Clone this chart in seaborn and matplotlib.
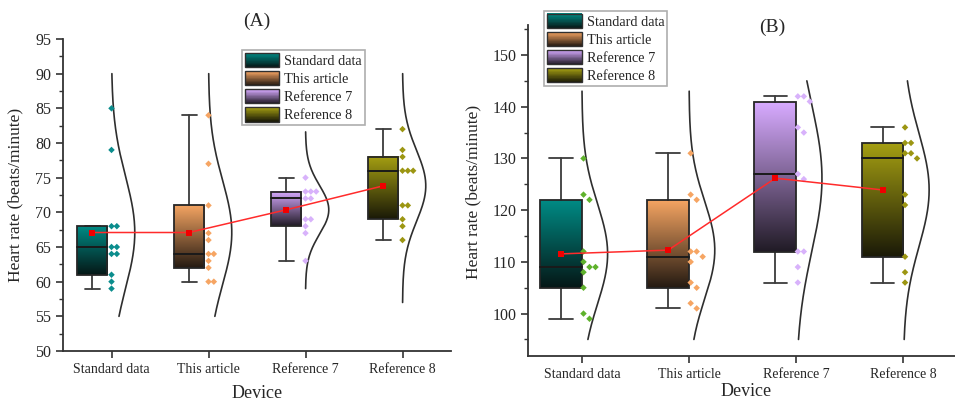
import numpy as np
import pandas as pd
import matplotlib
matplotlib.use("Agg")
import matplotlib.pyplot as plt
import seaborn as sns
from matplotlib.colors import to_rgb
from matplotlib.legend_handler import HandlerBase
from matplotlib.patches import Rectangle, Patch
from matplotlib.ticker import MultipleLocator

# ---------------------------------------------------------------- data
devices = ["Standard data", "This article", "Reference 7", "Reference 8"]

# (A) heart rate readings, beats/minute
hr_a_standard = [85, 79, 68, 68, 65, 65, 64, 64, 61, 60, 59]
hr_a_article = [84, 77, 71, 67, 66, 64, 64, 63, 62, 60, 60]
hr_a_ref7 = [75, 73, 73, 73, 72, 72, 69, 69, 68, 67, 63]
hr_a_ref8 = [82, 79, 78, 76, 76, 76, 71, 71, 69, 68, 66]

# (B) heart rate readings, beats/minute
hr_b_standard = [130, 123, 122, 112, 110, 109, 109, 108, 105, 100, 99]
hr_b_article = [131, 123, 122, 112, 112, 111, 110, 106, 105, 102, 101]
hr_b_ref7 = [142, 142, 141, 136, 135, 127, 126, 112, 112, 109, 106]
hr_b_ref8 = [136, 133, 133, 131, 131, 130, 123, 121, 111, 108, 106]

# vertical extent of each normal curve
curve_span_a = [(55, 90), (55, 90), (59, 81.6), (57, 90)]
curve_span_b = [(95, 143), (95, 143), (95, 145), (95, 145)]

yticks_a = [50, 55, 60, 65, 70, 75, 80, 85, 90, 95]
yticks_b = [100, 110, 120, 130, 140, 150]

# ---------------------------------------------------------------- style
box_tops = ["#008a84", "#f4a462", "#d7aaff", "#a49e12"]
points_a = ["#0b8d8d", "#f6a563", "#d8b2fb", "#9c9612"]
points_b = ["#5fb22c", "#f6a563", "#d8b2fb", "#9c9612"]
SERIF = ["Liberation Serif", "DejaVu Serif"]
INK = "#262626"

sns.set_theme(style="ticks")
plt.rcParams["font.family"] = SERIF
plt.rcParams["font.serif"] = SERIF


def dark_of(c):
    c = np.array(to_rgb(c))
    return c * 0.13 + 0.02


def gradient_image(c, n=64):
    top = np.array(to_rgb(c))
    bot = dark_of(c)
    t = np.linspace(0, 1, n)[:, None]
    return (bot + (top - bot) * t)[:, None, :]


def origin_stats(vals):
    v = np.asarray(vals, float)
    q1, med, q3 = np.percentile(v, [25, 50, 75], method="weibull")
    iqr = q3 - q1
    lo = v[v >= q1 - 1.5 * iqr].min()
    hi = v[v <= q3 + 1.5 * iqr].max()
    return dict(q1=q1, med=med, q3=q3, whislo=lo, whishi=hi,
                mean=v.mean(), sd=v.std(ddof=1))


def swarm_lanes(vals, gap):
    placed, out = [], []
    for v in vals:
        used = {l for (pv, l) in placed if abs(pv - v) < gap}
        k = 0
        while k in used:
            k += 1
        placed.append((v, k))
        out.append(k)
    return out


class GradientHandler(HandlerBase):
    def create_artists(self, legend, orig_handle, xdescent, ydescent,
                       width, height, fontsize, trans):
        top = np.array(to_rgb(orig_handle.get_facecolor()))
        bot = dark_of(top)
        n = 24
        arts = []
        for k in range(n):
            t = k / (n - 1)
            col = bot + (top - bot) * t
            arts.append(Rectangle((-xdescent, -ydescent + k * height / n),
                                  width, height / n + 0.3, facecolor=col,
                                  edgecolor="none", transform=trans))
        arts.append(Rectangle((-xdescent, -ydescent), width, height,
                              facecolor="none", edgecolor="#303030", lw=1.0,
                              transform=trans))
        return arts


def draw_panel(ax, groups, spans, pt_colors, box_w, box_off, cap_w,
               lane_step, lane_start, lane_gap, ylim, yticks, minor_step):
    positions = np.arange(1, len(groups) + 1)
    means = []
    rows = []
    for i, (vals, pos) in enumerate(zip(groups, positions)):
        st = origin_stats(vals)
        means.append(st["mean"])
        cx = pos + box_off
        x0, x1 = cx - box_w / 2, cx + box_w / 2
        # gradient-filled box
        ax.imshow(gradient_image(box_tops[i]), extent=[x0, x1, st["q1"], st["q3"]],
                  origin="lower", aspect="auto", zorder=2, interpolation="bilinear")
        ax.add_patch(Rectangle((x0, st["q1"]), box_w, st["q3"] - st["q1"],
                               facecolor="none", edgecolor="#262626", lw=1.3, zorder=3))
        ax.plot([x0, x1], [st["med"]] * 2, color="#1a1a1a", lw=1.4, zorder=3)
        # whiskers and caps
        for a, b in ((st["q3"], st["whishi"]), (st["q1"], st["whislo"])):
            ax.plot([cx, cx], [a, b], color="#3c3c3c", lw=1.3, zorder=2.5)
            ax.plot([cx - cap_w / 2, cx + cap_w / 2], [b, b], color="#3c3c3c",
                    lw=1.3, zorder=2.5)
        # normal curve to the right of each category
        lo, hi = spans[i]
        yy = np.linspace(lo, hi, 200)
        dens = np.exp(-0.5 * ((yy - st["mean"]) / st["sd"]) ** 2)
        ax.plot(pos + 0.24 * dens, yy, color="#2e2e2e", lw=1.2, zorder=2)
        # raw readings
        for v, ln in zip(vals, swarm_lanes(vals, lane_gap)):
            rows.append(dict(device=devices[i], hr=v,
                             x=pos + lane_start + lane_step * ln))
    df = pd.DataFrame(rows)
    sns.scatterplot(data=df, x="x", y="hr", hue="device",
                    palette=dict(zip(devices, pt_colors)), marker="D", s=11,
                    linewidth=0, legend=False, ax=ax, zorder=3)
    mean_df = pd.DataFrame(dict(x=positions + box_off, hr=means))
    sns.lineplot(data=mean_df, x="x", y="hr", sort=False, color="#ff2b2b",
                 lw=1.1, marker="s", markersize=5, markeredgewidth=0,
                 markerfacecolor="#f00000", ax=ax, zorder=5)

    ax.set_xlim(0.5, len(groups) + 0.5)
    ax.set_ylim(*ylim)
    ax.set_xticks(positions)
    ax.set_xticklabels(devices, fontsize=10, color=INK)
    ax.set_yticks(yticks)
    ax.set_yticklabels([str(t) for t in yticks], fontsize=11.5, color=INK)
    ax.yaxis.set_minor_locator(MultipleLocator(minor_step))
    ax.set_xlabel("")
    ax.set_ylabel("")
    sns.despine(ax=ax)
    for s in ("left", "bottom"):
        ax.spines[s].set_color("#333333")
        ax.spines[s].set_linewidth(1.3)
    ax.tick_params(axis="both", which="major", length=5, width=1.2,
                   color="#333333", pad=3.5)
    ax.tick_params(axis="y", which="minor", length=3, width=1.0, color="#333333")
    ax.tick_params(axis="x", which="minor", length=0)
    ax.set_facecolor("white")

    handles = [Patch(facecolor=c, label=d) for c, d in zip(box_tops, devices)]
    return handles


fig = plt.figure(figsize=(9.55, 4.03), dpi=100)
fig.patch.set_facecolor("white")

ax_a = fig.add_axes([63 / 955, 1 - 351 / 403, 388 / 955, 312 / 403])
ax_b = fig.add_axes([528.3 / 955, 1 - 356 / 403, 428.7 / 955, 331 / 403])

h = draw_panel(ax_a, [hr_a_standard, hr_a_article, hr_a_ref7, hr_a_ref8],
               curve_span_a, points_a, box_w=0.31, box_off=-0.2, cap_w=0.155,
               lane_step=0.055, lane_start=0.0, lane_gap=0.6,
               ylim=(50, 95), yticks=yticks_a, minor_step=2.5)
draw_panel(ax_b, [hr_b_standard, hr_b_article, hr_b_ref7, hr_b_ref8],
           curve_span_b, points_b, box_w=0.39, box_off=-0.195, cap_w=0.22,
           lane_step=0.056, lane_start=0.015, lane_gap=1.5,
           ylim=(91.8, 155.8), yticks=yticks_b, minor_step=5)

leg_kw = dict(handler_map={Patch: GradientHandler()}, loc="upper left",
              frameon=True, fancybox=False, borderpad=0.22, labelspacing=0.22,
              handlelength=2.4, handleheight=1.15, handletextpad=0.35,
              borderaxespad=0, prop={"family": SERIF, "size": 10.3})
for ax, anchor in ((ax_a, (0.461, 0.965)), (ax_b, (0.037, 1.043))):
    leg = ax.legend(handles=h, bbox_to_anchor=anchor, **leg_kw)
    leg.get_frame().set_edgecolor("#9a9a9a")
    leg.get_frame().set_linewidth(1.2)
    leg.set_zorder(10)
    for t in leg.get_texts():
        t.set_color(INK)

fig.text(257 / 955, 1 - 21 / 403, "(A)", ha="center", va="center",
         fontsize=14, color=INK)
fig.text(772 / 955, 1 - 27 / 403, "(B)", ha="center", va="center",
         fontsize=14, color=INK)
fig.text(257 / 955, 1 - 394 / 403, "Device", ha="center", va="center",
         fontsize=13, color=INK)
fig.text(746 / 955, 1 - 392 / 403, "Device", ha="center", va="center",
         fontsize=13, color=INK)
fig.text(15 / 955, 1 - 195 / 403, "Heart rate (beats/minute)", ha="center",
         va="center", rotation=90, fontsize=12.5, color=INK)
fig.text(473 / 955, 1 - 192 / 403, "Heart rate (beats/minute)", ha="center",
         va="center", rotation=90, fontsize=12.5, color=INK)

fig.savefig("out.png", dpi=100, facecolor="white")
